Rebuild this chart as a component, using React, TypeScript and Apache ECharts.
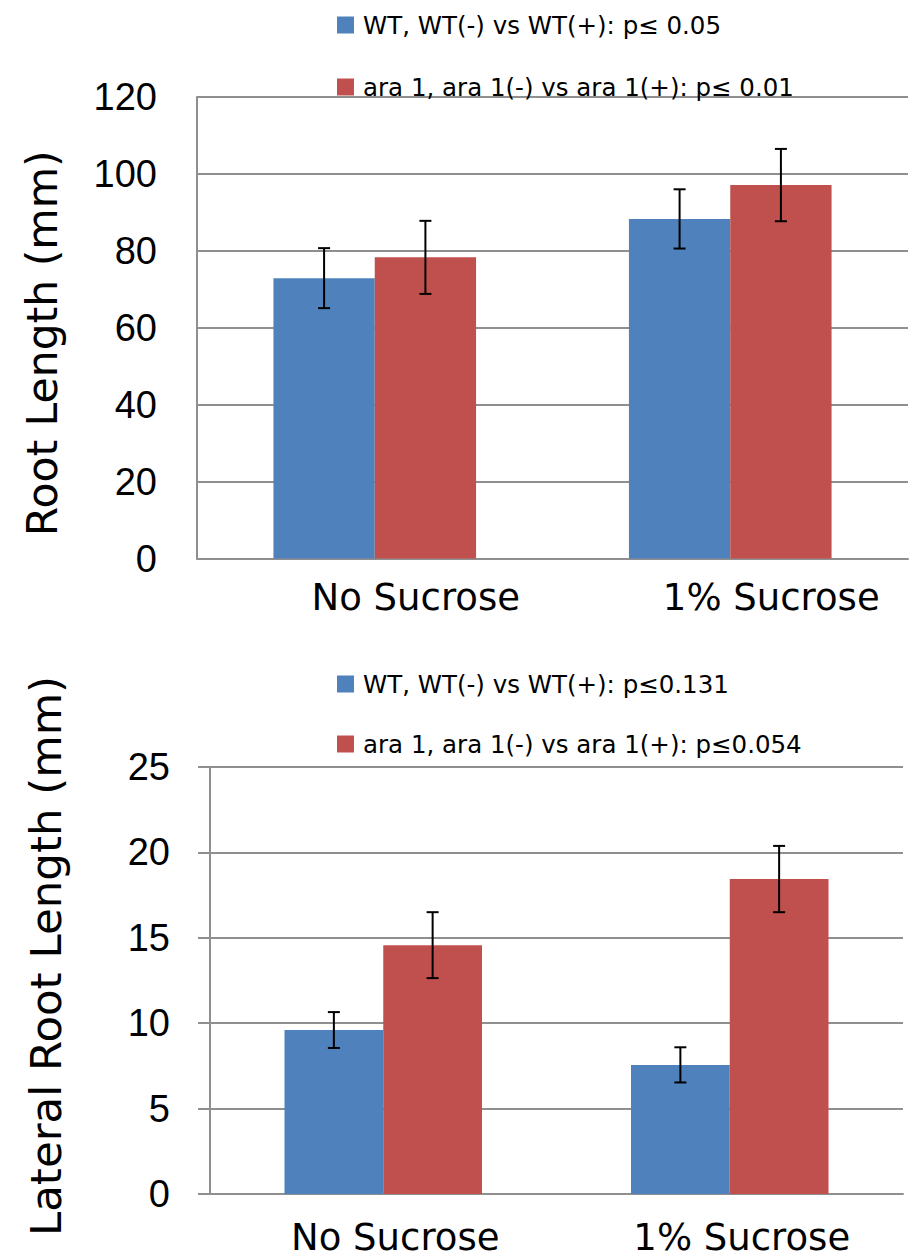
import React, { useEffect, useRef } from "react";
import * as echarts from "echarts";

const categories = ["No Sucrose", "1% Sucrose"];

const topNames = ["WT, WT(-) vs WT(+): p≤ 0.05", "ara 1, ara 1(-) vs ara 1(+): p≤ 0.01"];
const topWT = [72.9, 88.3];
const topWTErr = [7.8, 7.7];
const topAra = [78.3, 97.1];
const topAraErr = [9.5, 9.4];

const botNames = ["WT, WT(-) vs WT(+): p≤0.131", "ara 1, ara 1(-) vs ara 1(+): p≤0.054"];
const botWT = [9.6, 7.56];
const botWTErr = [1.05, 1.03];
const botAra = [14.57, 18.44];
const botAraErr = [1.93, 1.94];

const BLUE = "#4F81BD";
const RED = "#C0504D";
const GRID = "#8f8f8f";
const BAR_FRAC = 0.285;

function errData(vals: number[], errs: number[]) {
  return vals.map((v, i) => [i, v - errs[i], v + errs[i]]);
}

function errSeries(vals: number[], errs: number[], offset: number, axis: number) {
  return {
    type: "custom",
    xAxisIndex: axis,
    yAxisIndex: axis,
    z: 5,
    silent: true,
    encode: { x: 0, y: [1, 2] },
    data: errData(vals, errs),
    renderItem: (params: any, api: any) => {
      const cat = api.value(0);
      const lo = api.coord([cat, api.value(1)]);
      const hi = api.coord([cat, api.value(2)]);
      const band = api.size([1, 0])[0];
      const x = lo[0] + offset * band * BAR_FRAC;
      const h = 6;
      const st = { stroke: "#000", lineWidth: 2 };
      return {
        type: "group",
        children: [
          { type: "line", shape: { x1: x, y1: hi[1], x2: x, y2: lo[1] }, style: st },
          { type: "line", shape: { x1: x - h, y1: hi[1], x2: x + h, y2: hi[1] }, style: st },
          { type: "line", shape: { x1: x - h, y1: lo[1], x2: x + h, y2: lo[1] }, style: st },
        ],
      };
    },
  };
}

export default function App() {
  const ref = useRef<HTMLDivElement>(null);
  useEffect(() => {
    if (!ref.current) return;
    const chart = echarts.init(ref.current, null, { renderer: "svg" });
    const legendText = { fontFamily: "DejaVu Sans", fontSize: 24.5, color: "#000", lineHeight: 26, padding: [0, 0, 0, 4] };
    const tickLabel = { fontFamily: "Liberation Sans", fontSize: 38, color: "#000", margin: 40 };
    const catLabelBase = { fontFamily: "DejaVu Sans", fontSize: 37, color: "#000", interval: 0 };
    const lineStyle = { color: GRID, width: 2 };
    chart.setOption({
      animation: false,
      backgroundColor: "#fff",
      legend: [
        {
          orient: "vertical",
          left: 332,
          top: 7,
          itemGap: 36,
          itemWidth: 17,
          itemHeight: 17,
          icon: "rect",
          data: topNames,
          textStyle: legendText,
          selectedMode: false,
        },
        {
          orient: "vertical",
          left: 332,
          top: 666,
          itemGap: 34,
          itemWidth: 17,
          itemHeight: 17,
          icon: "rect",
          data: botNames,
          textStyle: legendText,
          selectedMode: false,
        },
      ],
      grid: [
        { left: 197, right: 5, top: 97, bottom: 1258 - 558.5 },
        { left: 210, right: 10, top: 767, bottom: 1258 - 1194 },
      ],
      xAxis: [
        {
          type: "category",
          gridIndex: 0,
          data: categories,
          axisLine: { show: true, lineStyle },
          axisTick: { show: false },
          axisLabel: { ...catLabelBase, margin: 20, padding: [0, 0, 0, 82] },
        },
        {
          type: "category",
          gridIndex: 1,
          data: categories,
          axisLine: { show: true, lineStyle },
          axisTick: { show: false },
          axisLabel: { ...catLabelBase, margin: 25, padding: [0, 0, 0, 24] },
        },
      ],
      yAxis: [
        {
          type: "value",
          gridIndex: 0,
          min: 0,
          max: 120,
          interval: 20,
          axisLine: { show: true, lineStyle },
          axisTick: { show: false },
          splitLine: { show: true, lineStyle },
          axisLabel: tickLabel,
          name: "Root Length (mm)",
          nameLocation: "middle",
          nameRotate: 90,
          nameGap: 133,
          nameTextStyle: { fontFamily: "DejaVu Sans", fontSize: 42.5, color: "#000", padding: [0, 31, 0, 0] },
        },
        {
          type: "value",
          gridIndex: 1,
          min: 0,
          max: 25,
          interval: 5,
          axisLine: { show: true, lineStyle },
          axisTick: { show: true, length: 12, lineStyle },
          splitLine: { show: true, lineStyle },
          axisLabel: tickLabel,
          name: "Lateral Root Length (mm)",
          nameLocation: "middle",
          nameRotate: 90,
          nameGap: 142,
          nameTextStyle: { fontFamily: "DejaVu Sans", fontSize: 43.5, color: "#000", padding: [0, 0, 0, 49] },
        },
      ],
      series: [
        {
          name: topNames[0],
          type: "bar",
          xAxisIndex: 0,
          yAxisIndex: 0,
          data: topWT,
          barWidth: "28.5%",
          barGap: "0%",
          itemStyle: { color: BLUE },
        },
        {
          name: topNames[1],
          type: "bar",
          xAxisIndex: 0,
          yAxisIndex: 0,
          data: topAra,
          barWidth: "28.5%",
          barGap: "0%",
          itemStyle: { color: RED },
        },
        {
          name: botNames[0],
          type: "bar",
          xAxisIndex: 1,
          yAxisIndex: 1,
          data: botWT,
          barWidth: "28.5%",
          barGap: "0%",
          itemStyle: { color: BLUE },
        },
        {
          name: botNames[1],
          type: "bar",
          xAxisIndex: 1,
          yAxisIndex: 1,
          data: botAra,
          barWidth: "28.5%",
          barGap: "0%",
          itemStyle: { color: RED },
        },
        errSeries(topWT, topWTErr, -0.5, 0),
        errSeries(topAra, topAraErr, 0.5, 0),
        errSeries(botWT, botWTErr, -0.5, 1),
        errSeries(botAra, botAraErr, 0.5, 1),
      ],
    });
    return () => chart.dispose();
  }, []);
  return (
    <div
      ref={ref}
      style={{ position: "absolute", left: 0, top: 0, width: 913, height: 1258, background: "#fff" }}
    />
  );
}
